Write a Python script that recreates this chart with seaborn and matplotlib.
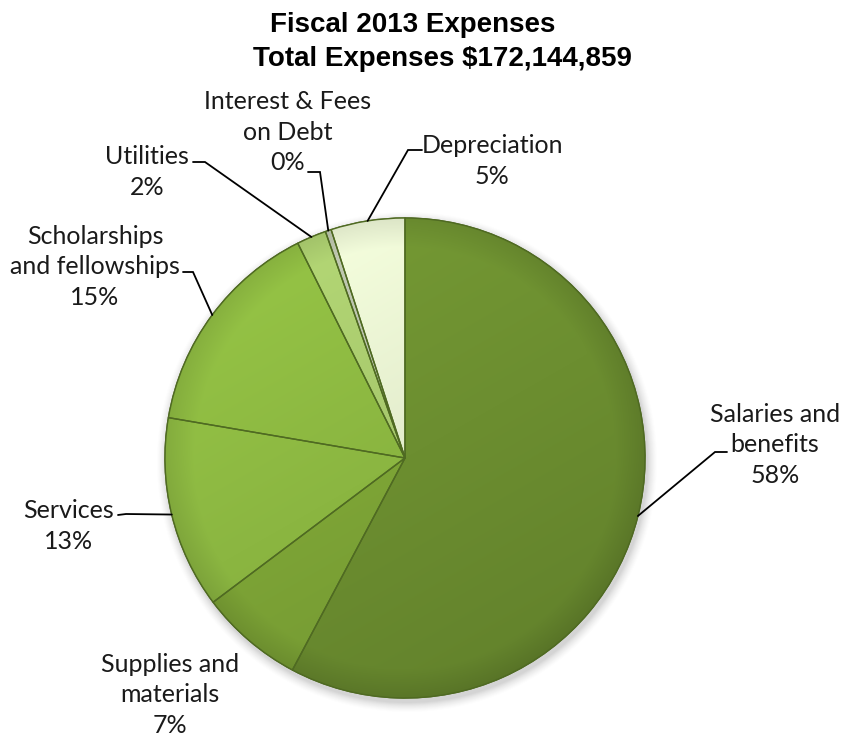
import numpy as np
import matplotlib
matplotlib.use("Agg")
import matplotlib.pyplot as plt
import seaborn as sns

# Expense categories (clockwise from 12 o'clock) and their shares in percent
categories = ["Salaries and\nbenefits", "Supplies and\nmaterials", "Services",
              "Scholarships\nand fellowships", "Utilities",
              "Interest & Fees\non Debt", "Depreciation"]
shares = [58, 7, 13, 15, 2, 0.4, 5]
colors = ["#6C8E30", "#7DA436", "#8BB641", "#8AB540", "#A6C76C", "#B4BCA6", "#E3ECCD"]

title_line1 = "Fiscal 2013 Expenses"
title_line2 = "Total Expenses $172,144,859"

sns.set_theme(style="white")
plt.rcParams["font.family"] = ["Lato", "DejaVu Sans"]

W, H = 843, 738
fig = plt.figure(figsize=(W / 100, H / 100), dpi=100)
ax = fig.add_axes([0, 0, 1, 1])


def Y(y):
    """Convert a top-origin pixel row to the axes' y-up coordinate."""
    return H - y


cx, cy, R = 405, Y(458), 240

# soft drop shadow under the pie
for k, a in zip(range(10, 0, -1), np.linspace(0.012, 0.05, 10)):
    ax.add_patch(plt.Circle((cx + 2, cy - 4), R + k, color="#707070", alpha=a, lw=0, zorder=0))

wedges, _ = ax.pie(shares, colors=colors, startangle=90, counterclock=False,
                   center=(cx, cy), radius=R,
                   wedgeprops=dict(edgecolor="#4F6A22", linewidth=1.0))
for w in wedges:
    w.set_zorder(2)

# lighting: brighter toward the top-left, darker toward the rim and bottom
n = 400
gx, gy = np.meshgrid(np.linspace(-1, 1, n), np.linspace(1, -1, n))
rr = np.sqrt(gx ** 2 + gy ** 2)
light = 1.0 + 0.07 * gy - 0.04 * gx - 0.10 * np.clip((rr - 0.88) / 0.12, 0, 1)
for w, c in zip(wedges, colors):
    base = np.array(matplotlib.colors.to_rgb(c))
    img = np.clip(light[..., None] * base[None, None, :], 0, 1)
    im = ax.imshow(img, extent=(cx - R, cx + R, cy - R, cy + R), zorder=3,
                   interpolation="bilinear")
    im.set_clip_path(w)
    edge = matplotlib.patches.Wedge((cx, cy), R, w.theta1, w.theta2, fill=False,
                                    edgecolor="#4F6A22", linewidth=1.0, zorder=4)
    ax.add_patch(edge)

total = sum(shares)
labels = [f"{cat}\n{s / total * 100:.0f}%" for cat, s in zip(categories, shares)]

# label anchor (text centre) and leader elbow; None means no leader
label_pos = [(775, 445), (170, 695), (69, 526), (95, 267), (147, 172), (288, 132), (492, 161)]
elbows = [((727, 452), (715, 452)), None, ((118, 515), (126, 514)),
          ((183, 272), (193, 272)), ((193, 162), (205, 162)),
          ((308, 172), (320, 172)), ((422, 150), (408, 150))]

for w, lab, (tx, ty), el in zip(wedges, labels, label_pos, elbows):
    ax.text(tx, Y(ty), lab, ha="center", va="center", fontsize=18,
            color="#1a1a1a", linespacing=1.38, zorder=6)
    if el is None:
        continue
    mid = np.deg2rad((w.theta1 + w.theta2) / 2)
    ex, ey = cx + R * np.cos(mid), cy + R * np.sin(mid)
    (x0, y0), (x1, y1) = el
    ax.plot([x0, x1, ex], [Y(y0), Y(y1), ey], color="black", lw=1.3,
            solid_joinstyle="miter", zorder=5)

title_font = dict(fontsize=20, fontweight="bold", family=["Liberation Sans", "DejaVu Sans"],
                  color="black", ha="center", va="baseline")
ax.text(413, Y(32), title_line1, **title_font)
ax.text(442, Y(66), title_line2, **title_font)

ax.set_xlim(0, W)
ax.set_ylim(0, H)
ax.set_aspect("auto")
ax.axis("off")
fig.savefig("out.png", dpi=100, facecolor="white")
